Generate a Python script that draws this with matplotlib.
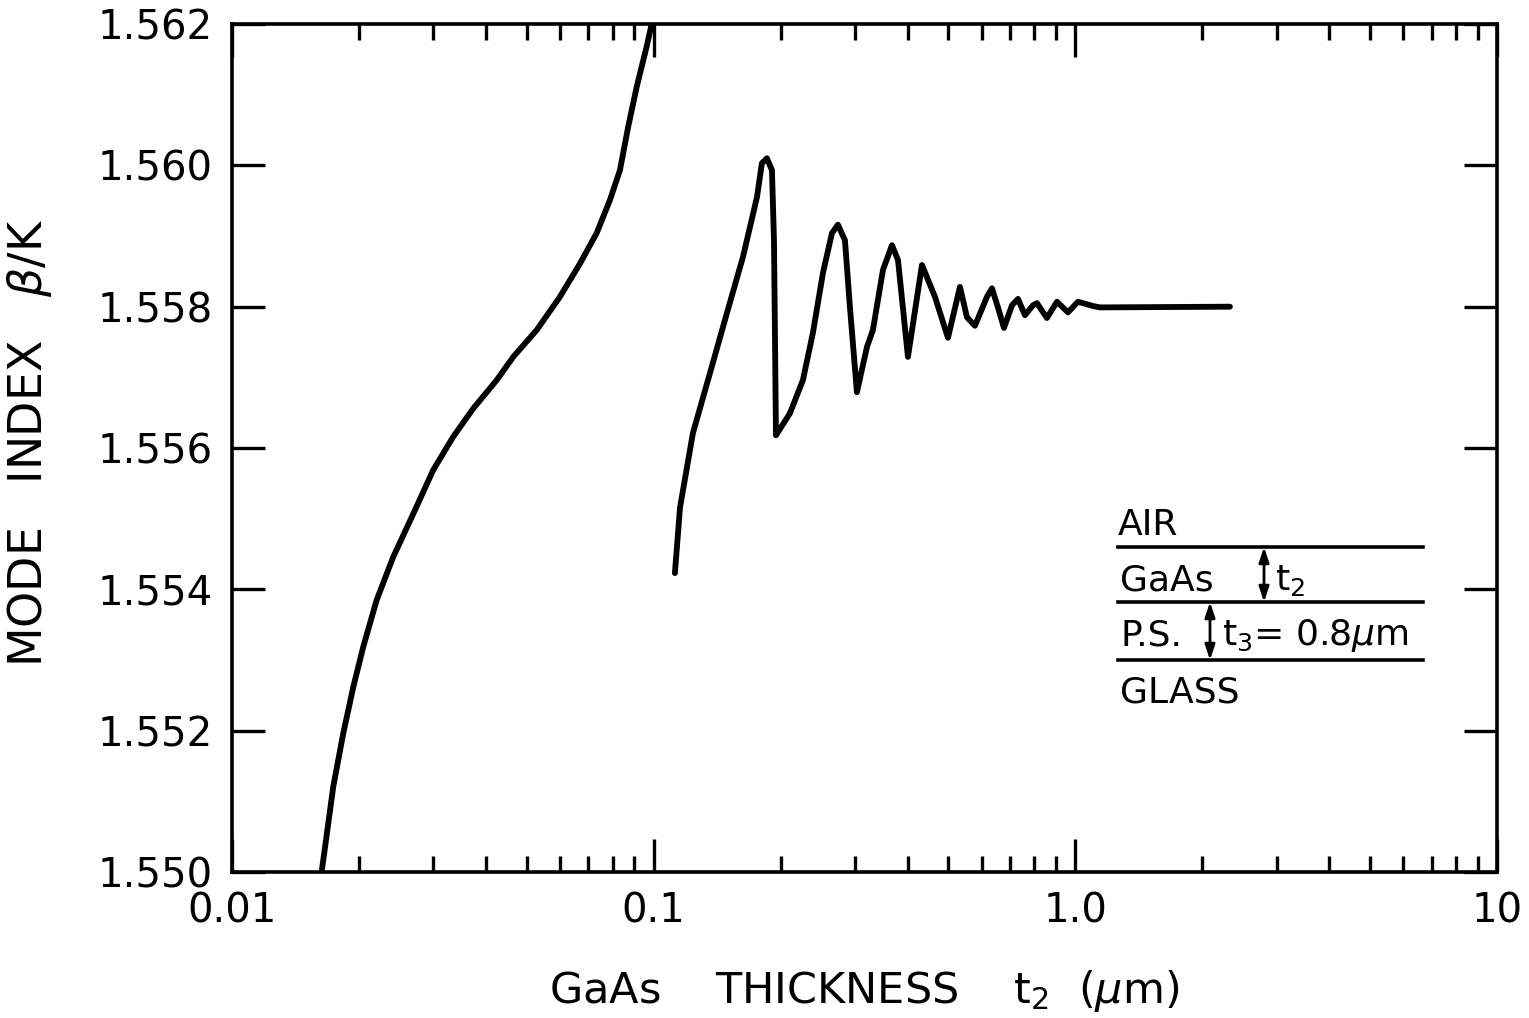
"""
Mode index vs GaAs thickness (log x axis), recreated with matplotlib
"""

import matplotlib
matplotlib.use('Agg')
import matplotlib.pyplot as plt
from matplotlib.ticker import FixedLocator, NullFormatter

# Left branch (thin GaAs)
t2_branch1 = [0.01632, 0.01739, 0.01836, 0.01940, 0.02049, 0.02204, 0.02413,
              0.02692, 0.03002, 0.03348, 0.03735, 0.04243, 0.04646, 0.05281,
              0.05995, 0.06687, 0.07325, 0.07877, 0.08318, 0.08705, 0.09116,
              0.09625, 0.09893]
n_branch1 = [1.55000, 1.55121, 1.55196, 1.55262, 1.55319, 1.55385, 1.55446,
             1.55507, 1.55569, 1.55616, 1.55656, 1.55696, 1.55729, 1.55767,
             1.55814, 1.55861, 1.55904, 1.55951, 1.55993, 1.56055, 1.56111,
             1.56168, 1.56200]

# Right branch (oscillating, settles at 1.558)
t2_branch2 = [0.1123, 0.1155, 0.1239, 0.1360, 0.1492, 0.1628, 0.1758, 0.1806,
              0.1856, 0.1908, 0.1929, 0.1940, 0.1950, 0.2104, 0.2259, 0.2386,
              0.2521, 0.2647, 0.2735, 0.2842, 0.2921, 0.3034, 0.3205, 0.3311,
              0.3498, 0.3674, 0.3797, 0.4009, 0.4328, 0.4646, 0.4988, 0.5325,
              0.5534, 0.5779, 0.6172, 0.6342, 0.6554, 0.6772, 0.7076, 0.7311,
              0.7595, 0.7935, 0.8109, 0.8562, 0.9046, 0.9605, 1.0144, 1.1010,
              1.144, 2.326]
n_branch2 = [1.55423, 1.55516, 1.55621, 1.55706, 1.55791, 1.55870, 1.55955, 1.56003,
             1.56010, 1.55993, 1.55894, 1.55753, 1.55618, 1.55649, 1.55696, 1.55763,
             1.55848, 1.55904, 1.55916, 1.55894, 1.55799, 1.55679, 1.55743, 1.55767,
             1.55852, 1.55887, 1.55866, 1.55729, 1.55859, 1.55814, 1.55756, 1.55828,
             1.55785, 1.55773, 1.55814, 1.55826, 1.55799, 1.55770, 1.55802, 1.55811,
             1.55788, 1.55802, 1.55805, 1.55784, 1.55807, 1.55792, 1.55807, 1.55801,
             1.55799, 1.55800]

x_ticks = [0.01, 0.1, 1.0, 10]
x_tick_labels = ['0.01', '0.1', '1.0', '10']
y_ticks = [1.550, 1.552, 1.554, 1.556, 1.558, 1.560, 1.562]
y_tick_labels = ['1.550', '1.552', '1.554', '1.556', '1.558', '1.560', '1.562']

plt.rcParams['font.family'] = ['DejaVu Sans']
plt.rcParams['mathtext.fontset'] = 'dejavusans'

fig = plt.figure(figsize=(15.29, 10.18), dpi=100)
ax = fig.add_axes([0.1517, 0.1434, 0.8274, 0.8330])

line_kw = dict(color='black', lw=4.2, solid_capstyle='round', solid_joinstyle='round')
ax.plot(t2_branch1, n_branch1, **line_kw)
ax.plot(t2_branch2, n_branch2, **line_kw)

ax.set_xscale('log')
ax.set_xlim(0.01, 10)
ax.set_ylim(1.550, 1.562)

ax.set_xticks(x_ticks)
ax.set_xticklabels(x_tick_labels)
minors = [m * d for d in (0.01, 0.1, 1.0) for m in range(2, 10)]
ax.xaxis.set_minor_locator(FixedLocator(minors))
ax.xaxis.set_minor_formatter(NullFormatter())
ax.set_yticks(y_ticks)
ax.set_yticklabels(y_tick_labels)

ax.tick_params(axis='both', which='major', direction='in', length=24, width=2.4,
               top=True, right=True, labelsize=29, pad=14)
ax.tick_params(axis='x', which='minor', direction='in', length=11.5, width=2.4,
               top=True)
for s in ax.spines.values():
    s.set_linewidth(2.6)

ax.set_xlabel(r'GaAs    THICKNESS    t$_2$  ($\mu$m)', fontsize=31, labelpad=26)
ax.set_ylabel(r'MODE   INDEX   $\beta$/K', fontsize=33)
ax.yaxis.set_label_coords(-0.141, 0.506)

# layer sketch
tr = ax.transAxes
for yy in (0.3833, 0.3184, 0.2500):
    ax.plot([0.7004, 0.9415], [yy, yy], color='black', lw=2.6, transform=tr)
fs = 26
ax.text(0.7004, 0.3974, 'AIR', fontsize=fs, transform=tr, va='baseline')
ax.text(0.7020, 0.3325, 'GaAs', fontsize=fs, transform=tr, va='baseline')
ax.text(0.7020, 0.2677, 'P.S.', fontsize=fs, transform=tr, va='baseline')
ax.text(0.7020, 0.2000, 'GLASS', fontsize=fs, transform=tr, va='baseline')
arrow_kw = dict(arrowstyle='<|-|>,head_length=0.9,head_width=0.3', lw=2.0,
                color='black', shrinkA=0, shrinkB=0)
ax.annotate('', xy=(0.8158, 0.3833), xytext=(0.8158, 0.3184), xycoords=tr,
            textcoords=tr, arrowprops=arrow_kw)
ax.annotate('', xy=(0.7731, 0.3184), xytext=(0.7731, 0.2500), xycoords=tr,
            textcoords=tr, arrowprops=arrow_kw)
ax.text(0.8245, 0.3325, r't$_2$', fontsize=fs, transform=tr, va='baseline')
ax.text(0.7826, 0.2677, r't$_3$= 0.8$\mu$m', fontsize=fs, transform=tr, va='baseline')

fig.savefig('out.png', dpi=100)
plt.close(fig)
